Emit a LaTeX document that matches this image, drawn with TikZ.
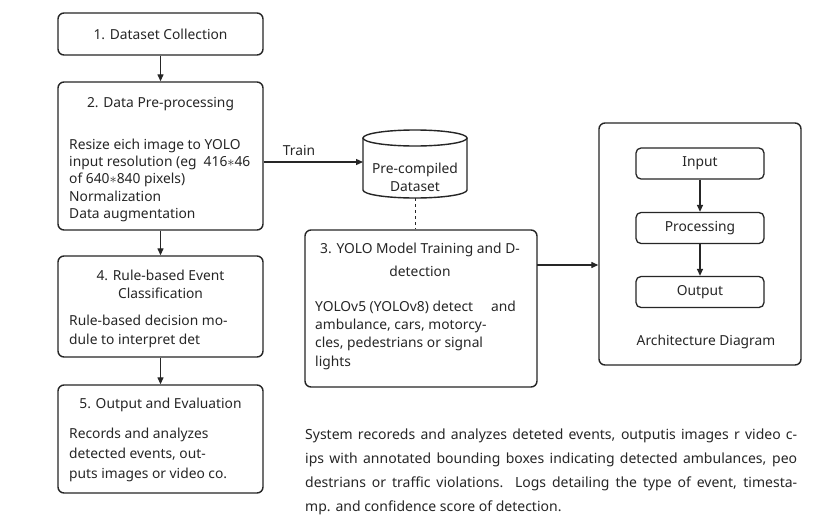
\documentclass[tikz,border=0pt]{standalone}
\usepackage{fontspec}
\setmainfont{Noto Sans}
\usetikzlibrary{arrows.meta}
\definecolor{ink}{HTML}{262626}
\begin{document}
\begin{tikzpicture}[x=1pt,y=-1pt,
 box/.style={draw=ink, line width=1.4pt, rounded corners=6pt, inner sep=0pt},
 ibox/.style={draw=ink, line width=1.3pt, rounded corners=5pt, inner sep=0pt, minimum width=128pt, minimum height=31pt, text=ink, font=\fontsize{13.8}{18}\selectfont},
 ttl/.style={text=ink, font=\fontsize{13.8}{18}\selectfont, inner sep=0pt, align=center},
 body/.style={text=ink, font=\fontsize{13.8}{17.3}\selectfont, inner sep=0pt, align=left, anchor=north west},
 arr/.style={draw=ink, line width=1.3pt, -{Triangle[length=7pt,width=6pt]}},
]
\useasboundingbox (0,0) rectangle (827,517);
\clip (0,0) rectangle (827,517);
\fill[white] (0,0) rectangle (827,517);

% left column
\node[box, minimum width=205pt, minimum height=42pt, ttl] (b1) at (160.5,34) {1. Dataset Collection};

\node[box, minimum width=205pt, minimum height=148pt] (b2) at (160.5,156) {};
\node[ttl] (t2) at (160.5,104) {2. Data Pre-processing};
\node[body] (d2) at (69,138.5) {Resize eich image to YOLO\\input resolution (eg\ \ 416$\ast$46\\of 640$\ast$840 pixels)\\Normalization\\Data augmentation};

\node[box, minimum width=205pt, minimum height=101pt] (b4) at (160.5,306.5) {};
\node[ttl] (t4) at (160.5,284) {4. Rule-based Event\\Classification};
\node[body, font=\fontsize{13.8}{19.2}\selectfont] (d4) at (69,314.5) {Rule-based decision mo-\\dule to interpret det};

\node[box, minimum width=205pt, minimum height=108pt] (b5) at (160.5,439) {};
\node[ttl] (t5) at (160.5,405) {5. Output and Evaluation};
\node[body, font=\fontsize{13.8}{20}\selectfont] (d5) at (69,427.5) {Records and analyzes\\detected events, out-\\puts images or video co.};

\draw[arr] (b1.south) -- (b2.north);
\draw[arr] (b2.south) -- (b4.north);
\draw[arr] (b4.south) -- (b5.north);

% cylinder
\node[minimum width=104pt, minimum height=68pt, inner sep=0pt] (cyl) at (415,164) {};
\draw[ink, line width=1.4pt, fill=white] (363,138) -- (363,190) arc[start angle=180, end angle=360, x radius=52pt, y radius=8pt] -- (467,138);
\draw[ink, line width=1.4pt] (415,138) ellipse [x radius=52pt, y radius=8pt];
\node[ttl] (cylt) at (415,177.5) {Pre-compiled\\Dataset};
\coordinate (cylL) at (363,162);
\coordinate (cylB) at (415,198);

\draw[arr] (b2.east |- cylL) -- (cylL);
\node[ttl] (train) at (299,150) {Train};

% box 3
\node[box, minimum width=232pt, minimum height=157pt] (b3) at (421,308.5) {};
\node[ttl, font=\fontsize{13.8}{23.5}\selectfont] (t3) at (420,260) {3. YOLO Model Training and D-\\detection};
\node[body, font=\fontsize{13.8}{18.3}\selectfont] (d3) at (315,300.5) {YOLOv5 (YOLOv8) detect\hspace{1.3em}and\\ambulance, cars, motorcy-\\cles, pedestrians or signal\\lights};
\draw[ink, line width=1pt, dashed] (cylB) -- (cylB |- b3.north);

% architecture
\node[box, minimum width=202pt, minimum height=242pt] (arch) at (700,244) {};
\node[ibox] (inp) at (700,163.5) {Input};
\node[ibox] (proc) at (700,228) {Processing};
\node[ibox] (outp) at (700,292) {Output};
\node[ttl] (archt) at (706,342) {Architecture Diagram};
\draw[arr] (inp) -- (proc);
\draw[arr] (proc) -- (outp);
\coordinate (a3) at (537,265);
\draw[arr] (a3) -- (arch.west |- a3);

% paragraph
\node[text=ink, inner sep=0pt, anchor=north west, text width=492pt, align=justify, font=\fontsize{14}{24}\selectfont] (para) at (305,429) {System recoreds and analyzes deteted events, outputis images r video c-\linebreak ips with annotated bounding boxes indicating detected ambulances, peo\linebreak destrians or traffic violations. Logs detailing the type of event, timesta-\linebreak mp. and confidence score of detection.};
\end{tikzpicture}
\end{document}
